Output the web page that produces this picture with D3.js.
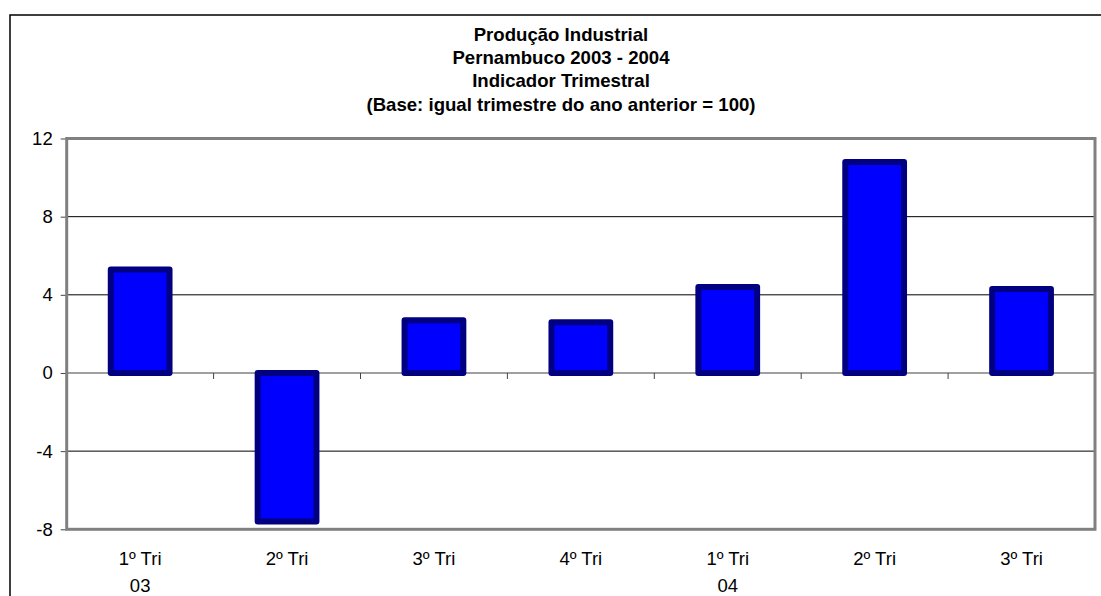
<!DOCTYPE html>
<html>
<head>
<meta charset="utf-8">
<script src="https://cdn.jsdelivr.net/npm/d3@7"></script>
<style>
  html, body { margin: 0; padding: 0; background: #fff; }
  svg { display: block; }
  text { font-family: Arial, "Liberation Sans", sans-serif; fill: #000; }
</style>
</head>
<body>
<svg id="chart" width="1101" height="596"></svg>
<script>
// Quarterly industrial production index, Pernambuco (variation vs. same quarter of previous year)
const quarters = ["1º Tri", "2º Tri", "3º Tri", "4º Tri", "1º Tri", "2º Tri", "3º Tri"];
const years    = ["03", "", "", "", "04", "", ""];
const values   = [5.3, -7.6, 2.7, 2.6, 4.4, 10.8, 4.3];
const yTicks   = [-8, -4, 0, 4, 8, 12];
const titleLines = [
  "Produção Industrial",
  "Pernambuco 2003 - 2004",
  "Indicador Trimestral",
  "(Base: igual trimestre do ano anterior = 100)"
];

const svg = d3.select("#chart");
const plot = { left: 66.7, right: 1095, top: 138.5, bottom: 529.3 };

const x = d3.scaleBand()
  .domain(d3.range(quarters.length))
  .range([plot.left, plot.right])
  .paddingInner(0.6)
  .paddingOuter(0.3);

const y = d3.scaleLinear()
  .domain([-8, 12])
  .range([plot.bottom, plot.top]);

// outer chart frame
svg.append("rect")
  .attr("x", 10).attr("y", 15)
  .attr("width", 1110).attr("height", 600)
  .attr("fill", "none").attr("stroke", "#000").attr("stroke-width", 1.5);

// title
svg.append("g").selectAll("text")
  .data(titleLines)
  .join("text")
  .attr("x", 561)
  .attr("y", (d, i) => 40.5 + i * 23.4)
  .attr("text-anchor", "middle")
  .attr("font-weight", "bold")
  .attr("font-size", 18.6)
  .text(d => d);

// horizontal gridlines
svg.append("g").selectAll("line")
  .data(yTicks.filter(t => t !== 0 && t !== 12 && t !== -8))
  .join("line")
  .attr("x1", plot.left).attr("x2", plot.right)
  .attr("y1", d => y(d)).attr("y2", d => y(d))
  .attr("stroke", "#000").attr("stroke-width", 1);

// y axis ticks and labels (plain hyphen for negatives)
const yAxis = d3.axisLeft(y).tickValues(yTicks).tickSize(6).tickPadding(8)
  .tickFormat(d => String(d));
const gy = svg.append("g").attr("transform", `translate(${plot.left},0)`).call(yAxis);
gy.select(".domain").remove();
gy.selectAll(".tick line").attr("stroke", "#444");
gy.selectAll(".tick text")
  .attr("font-size", 18.5)
  .attr("font-family", "Arial, 'Liberation Sans', sans-serif")
  .attr("fill", "#000");

// category axis at zero with tick marks between categories
const y0 = y(0);
svg.append("line")
  .attr("x1", plot.left).attr("x2", plot.right)
  .attr("y1", y0).attr("y2", y0)
  .attr("stroke", "#808080").attr("stroke-width", 1.5);
svg.append("g").selectAll("line")
  .data(d3.range(1, quarters.length + 1))
  .join("line")
  .attr("x1", d => plot.left + d * (plot.right - plot.left) / quarters.length)
  .attr("x2", d => plot.left + d * (plot.right - plot.left) / quarters.length)
  .attr("y1", y0).attr("y2", y0 + 6)
  .attr("stroke", "#444").attr("stroke-width", 1);

// bars
svg.append("g").selectAll("rect")
  .data(values)
  .join("rect")
  .attr("x", (d, i) => x(i))
  .attr("width", x.bandwidth())
  .attr("y", d => y(Math.max(0, d)))
  .attr("height", d => Math.abs(y(d) - y(0)))
  .attr("fill", "#0000FF")
  .attr("stroke", "#000080")
  .attr("stroke-width", 6)
  .attr("stroke-linejoin", "round");

// plot area frame
svg.append("rect")
  .attr("x", plot.left).attr("y", plot.top)
  .attr("width", plot.right - plot.left)
  .attr("height", plot.bottom - plot.top)
  .attr("fill", "none").attr("stroke", "#808080").attr("stroke-width", 3);

// category labels (quarter / year)
const gx = svg.append("g");
gx.selectAll("text.q")
  .data(quarters)
  .join("text")
  .attr("class", "q")
  .attr("x", (d, i) => x(i) + x.bandwidth() / 2)
  .attr("y", 565)
  .attr("text-anchor", "middle")
  .attr("font-size", 18.5)
  .text(d => d);
gx.selectAll("text.yr")
  .data(years)
  .join("text")
  .attr("class", "yr")
  .attr("x", (d, i) => x(i) + x.bandwidth() / 2)
  .attr("y", 592)
  .attr("text-anchor", "middle")
  .attr("font-size", 18.5)
  .text(d => d);
</script>
</body>
</html>
